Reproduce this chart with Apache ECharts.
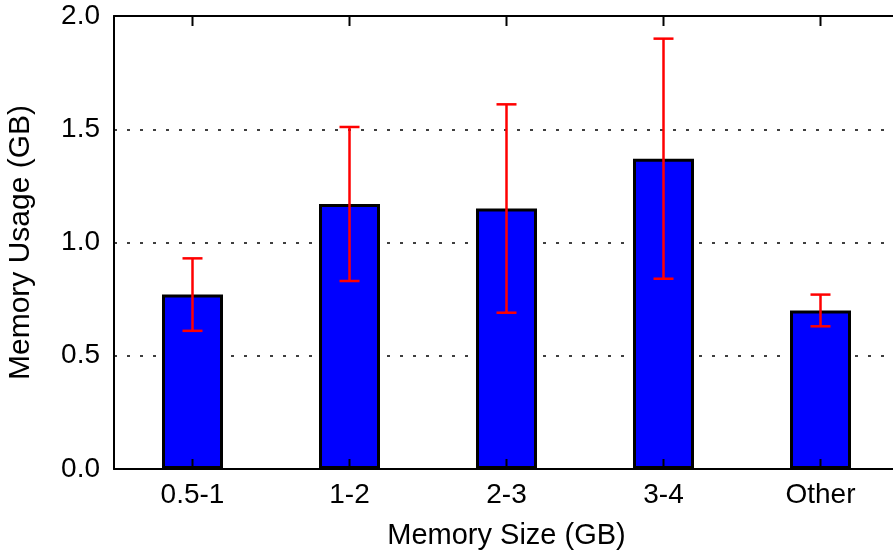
<!DOCTYPE html>
<html>
<head>
<meta charset="utf-8">
<script src="https://cdn.jsdelivr.net/npm/echarts@6/dist/echarts.min.js"></script>
<style>
  html, body { margin: 0; padding: 0; background: #fff; }
  #chart { width: 893px; height: 550px; }
</style>
</head>
<body>
<div id="chart"></div>
<script>
// Memory usage by installed memory size, with min/max spread
const categories = ['0.5-1', '1-2', '2-3', '3-4', 'Other'];
const usage = [0.77, 1.17, 1.15, 1.37, 0.70];
const errLow = [0.61, 0.83, 0.69, 0.84, 0.63];
const errHigh = [0.93, 1.51, 1.61, 1.90, 0.77];
const yTicks = [0, 0.5, 1.0, 1.5, 2.0];

const FONT = 'Liberation Sans, Arial, Helvetica, sans-serif';
const Y_MIN = yTicks[0];
const Y_MAX = yTicks[yTicks.length - 1];
const chart = echarts.init(document.getElementById('chart'), null, { renderer: 'canvas' });

const errData = categories.map((c, i) => [i, errLow[i], errHigh[i]]);
const tickData = categories.map((c, i) => [i]);

chart.setOption({
  animation: false,
  grid: { left: 114, top: 16, bottom: 81, width: 785, outerBoundsMode: 'none', containLabel: false },
  xAxis: [
    {
      type: 'category',
      data: categories,
      position: 'bottom',
      name: 'Memory Size (GB)',
      nameLocation: 'middle',
      nameGap: 52,
      nameTextStyle: { fontFamily: FONT, fontSize: 29, color: '#000' },
      axisLine: { show: true, lineStyle: { color: '#000', width: 2 } },
      axisTick: { show: false },
      axisLabel: { fontFamily: FONT, fontSize: 28, color: '#000', margin: 12 },
      splitLine: { show: false }
    },
    {
      type: 'category',
      data: categories,
      position: 'top',
      axisLine: { show: true, lineStyle: { color: '#000', width: 2 } },
      axisTick: { show: false },
      axisLabel: { show: false },
      splitLine: { show: false }
    }
  ],
  yAxis: {
    type: 'value',
    min: Y_MIN,
    max: Y_MAX,
    interval: 0.5,
    name: 'Memory Usage (GB)',
    nameLocation: 'middle',
    nameGap: 78,
    nameTextStyle: { fontFamily: FONT, fontSize: 30, color: '#000' },
    axisLine: { show: true, lineStyle: { color: '#000', width: 2 } },
    axisTick: { show: false },
    axisLabel: {
      fontFamily: FONT, fontSize: 28, color: '#000', margin: 14,
      formatter: v => v.toFixed(1)
    },
    splitLine: { show: true, lineStyle: { color: '#000', width: 1.5, type: [3, 10] } }
  },
  series: [
    {
      type: 'bar',
      data: usage,
      barWidth: 61,
      itemStyle: { color: '#0000ff', borderColor: '#000', borderWidth: 3 },
      z: 2
    },
    {
      // min/max spread as red error bars
      type: 'custom',
      data: errData,
      z: 3,
      renderItem: function (params, api) {
        const x = api.value(0);
        const lo = api.coord([x, api.value(1)]);
        const hi = api.coord([x, api.value(2)]);
        const cap = 10;
        const style = { stroke: '#ff0000', lineWidth: 2.5 };
        return {
          type: 'group',
          children: [
            { type: 'line', shape: { x1: lo[0], y1: lo[1], x2: hi[0], y2: hi[1] }, style },
            { type: 'line', shape: { x1: lo[0] - cap, y1: lo[1], x2: lo[0] + cap, y2: lo[1] }, style },
            { type: 'line', shape: { x1: hi[0] - cap, y1: hi[1], x2: hi[0] + cap, y2: hi[1] }, style }
          ]
        };
      }
    },
    {
      // inward category ticks on the bottom and top frame lines
      type: 'custom',
      data: tickData,
      z: 4,
      silent: true,
      renderItem: function (params, api) {
        const x = api.value(0);
        const b = api.coord([x, Y_MIN]);
        const t = api.coord([x, Y_MAX]);
        const len = 10;
        const style = { stroke: '#000', lineWidth: 2 };
        return {
          type: 'group',
          children: [
            { type: 'line', shape: { x1: b[0], y1: b[1], x2: b[0], y2: b[1] - len }, style },
            { type: 'line', shape: { x1: t[0], y1: t[1], x2: t[0], y2: t[1] + len }, style }
          ]
        };
      }
    }
  ]
});
</script>
</body>
</html>
